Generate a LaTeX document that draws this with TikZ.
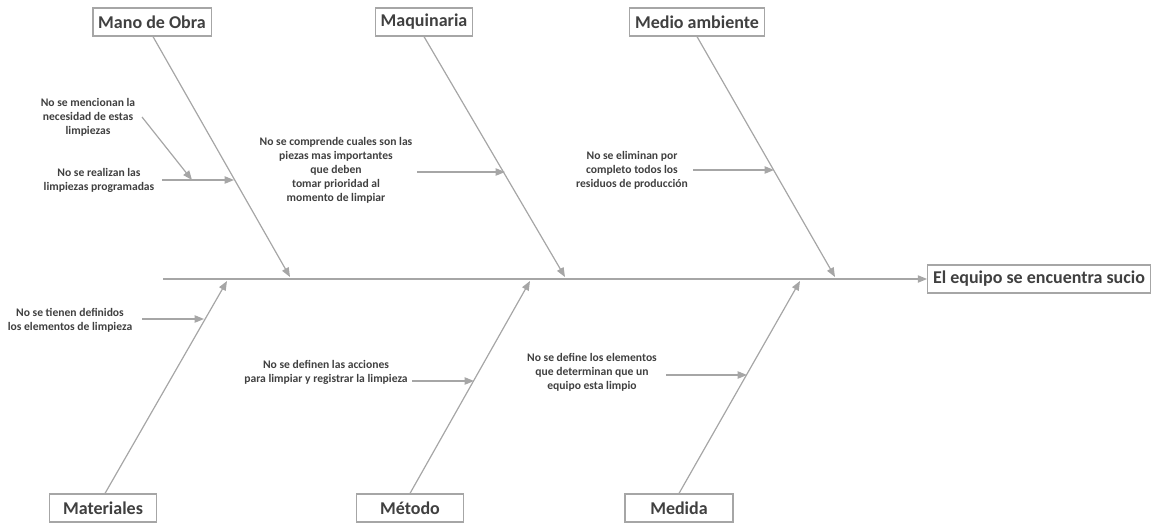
\documentclass[tikz,border=0pt]{standalone}
\usepackage{fontspec}
\setmainfont{Carlito}
\usetikzlibrary{arrows.meta}
\definecolor{linegray}{HTML}{A6A6A6}
\definecolor{txtgray}{HTML}{404040}
\begin{document}
\begin{tikzpicture}[x=0.75pt,y=-0.75pt,
  cat/.style={draw=linegray,line width=0.9pt,fill=white,text=txtgray,
    font=\bfseries\fontsize{13.5}{16}\selectfont,inner xsep=4pt,inner ysep=0pt,
    minimum height=21pt,anchor=center},
  cause/.style={text=txtgray,font=\bfseries\fontsize{8.7}{10.5}\selectfont,
    align=center,inner sep=0pt},
  bone/.style={draw=linegray,line width=0.9pt,
    -{Triangle[length=7pt,width=5.5pt]}},
  twig/.style={draw=linegray,line width=0.9pt,
    -{Triangle[length=7pt,width=5.5pt]}}]
\useasboundingbox (0,0) rectangle (1157,525);

% effect box and spine
\node[cat,minimum width=166pt] (eff) at (1039,279) {El equipo se encuentra sucio};
\coordinate (tail) at (163,279);
\draw[bone] (tail) -- (eff.west);

% category boxes
\node[cat,minimum width=87pt] (mo) at (152,22) {Mano de Obra};
\node[cat,minimum width=70pt] (maq) at (424,22) {Maquinaria};
\node[cat,minimum width=100pt] (ma) at (697,22) {Medio ambiente};
\node[cat,minimum width=80pt] (mat) at (103,508) {Materiales};
\node[cat,minimum width=80pt] (met) at (410,508) {Método};
\node[cat,minimum width=81pt] (med) at (679,508) {Medida};

% points where the bones meet the spine
\coordinate (j1) at (290,277);
\coordinate (j2) at (565,277);
\coordinate (j3) at (835,277);
\coordinate (j4) at (227,281);
\coordinate (j5) at (530,281);
\coordinate (j6) at (800,281);

\draw[bone] (mo.south) ++(1,0) -- (j1);
\draw[bone] (maq.south) -- (j2);
\draw[bone] (ma.south) -- (j3);
\draw[bone] (mat.north) ++(2,0) -- (j4);
\draw[bone] (met.north) -- (j5);
\draw[bone] (med.north) -- (j6);

% causes: Mano de Obra
\node[cause] (c1) at (88,117) {No se mencionan la\\necesidad de estas\\limpiezas};
\node[cause] (c2) at (99,180) {No se realizan las\\limpiezas programadas};
\coordinate (c1t) at (142,117);
\coordinate (c1h) at (192,180);
\coordinate (c2t) at (162,180);
\coordinate (c2h) at (234,180);
\draw[twig] (c1t) -- (c1h);
\draw[twig] (c2t) -- (c2h);

% causes: Maquinaria
\node[cause] (c3) at (336,170) {No se comprende cuales son las\\piezas mas importantes\\que deben\\tomar prioridad al\\momento de limpiar};
\coordinate (c3t) at (417,172);
\coordinate (c3h) at (505,172);
\draw[twig] (c3t) -- (c3h);

% causes: Medio ambiente
\node[cause] (c4) at (632,170) {No se eliminan por\\completo todos los\\residuos de producción};
\coordinate (c4t) at (693,170);
\coordinate (c4h) at (774,170);
\draw[twig] (c4t) -- (c4h);

% causes: Materiales
\node[cause] (c5) at (70,320) {No se tienen definidos\\los elementos de limpieza};
\coordinate (c5t) at (142,319);
\coordinate (c5h) at (204,319);
\draw[twig] (c5t) -- (c5h);

% causes: Método
\node[cause] (c6) at (326,372) {No se definen las acciones\\para limpiar y registrar la limpieza};
\coordinate (c6t) at (412,381);
\coordinate (c6h) at (474,381);
\draw[twig] (c6t) -- (c6h);

% causes: Medida
\node[cause] (c7) at (592,372) {No se define los elementos\\que determinan que un\\equipo esta limpio};
\coordinate (c7t) at (666,375);
\coordinate (c7h) at (747,375);
\draw[twig] (c7t) -- (c7h);
\end{tikzpicture}
\end{document}
